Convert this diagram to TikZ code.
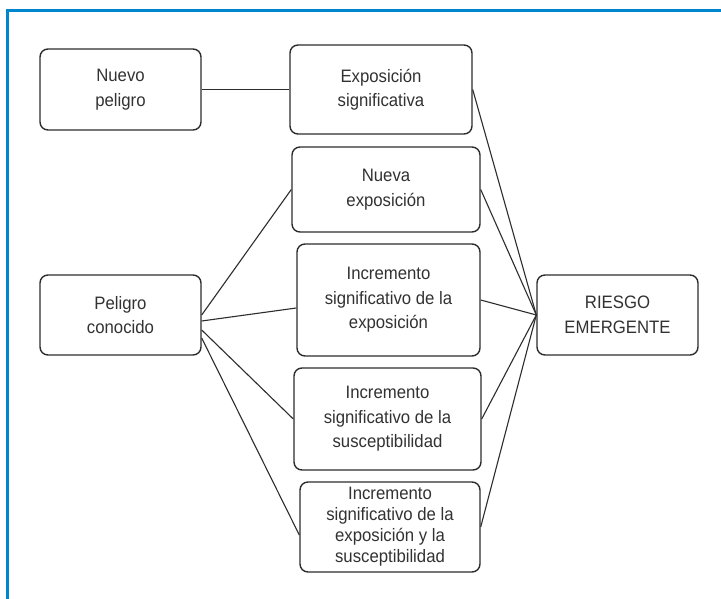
\documentclass[tikz,border=0pt]{standalone}
\usepackage{fontspec}
\setmainfont[FakeStretch=0.93]{Liberation Sans}
\usetikzlibrary{calc}
\definecolor{frameblue}{RGB}{0,133,207}
\definecolor{boxline}{RGB}{45,45,45}
\definecolor{txt}{RGB}{50,50,50}
\tikzset{
  box/.style={draw=boxline, line width=1.4pt, rounded corners=8pt, align=center,
    text=txt, inner sep=0pt, font=\fontsize{18}{24.5}\selectfont},
  link/.style={draw=boxline, line width=1.1pt},
}
\begin{document}
\begin{tikzpicture}[x=1pt,y=-1pt]
\useasboundingbox (0,0) rectangle (721,599);
\fill[white] (0,0) rectangle (721,599);
\draw[frameblue, line width=2.6pt] (7.3,599) -- (7.3,10.8) -- (721,10.8);

\node[box, minimum width=161pt, minimum height=81pt] (np) at (120.5,89.5) {Nuevo\\peligro};
\node[box, minimum width=182pt, minimum height=89pt] (es) at (381,89.5) {Exposición\\significativa};
\node[box, minimum width=188pt, minimum height=85pt] (ne) at (386,189.5) {Nueva\\exposición};
\node[box, minimum width=183pt, minimum height=112pt] (ie) at (388.5,300) {Incremento\\significativo de la\\exposición};
\node[box, minimum width=161pt, minimum height=80pt] (pc) at (120.5,315) {Peligro\\conocido};
\node[box, minimum width=187pt, minimum height=102pt] (is) at (387.5,419) {Incremento\\significativo de la\\susceptibilidad};
\node[box, minimum width=180pt, minimum height=90pt, font=\fontsize{18}{21}\selectfont] (iey) at (390,527) {Incremento\\significativo de la\\exposición y la\\susceptibilidad};
\node[box, minimum width=161pt, minimum height=80pt] (re) at (617.5,315) {RIESGO\\EMERGENTE};

\draw[link] (np.east) -- (es.west);
\draw[link] (pc.east) -- (ne.west);
\draw[link] ([yshift=-6pt]pc.east) -- ([yshift=-8pt]ie.west);
\draw[link] ([yshift=-15pt]pc.east) -- (is.west);
\draw[link] ([yshift=-23pt]pc.east) -- ([yshift=-8pt]iey.west);

\draw[link] (es.east) -- (re.west);
\draw[link] (ne.east) -- (re.west);
\draw[link] (ie.east) -- (re.west);
\draw[link] (is.east) -- (re.west);
\draw[link] (iey.east) -- (re.west);
\end{tikzpicture}
\end{document}
